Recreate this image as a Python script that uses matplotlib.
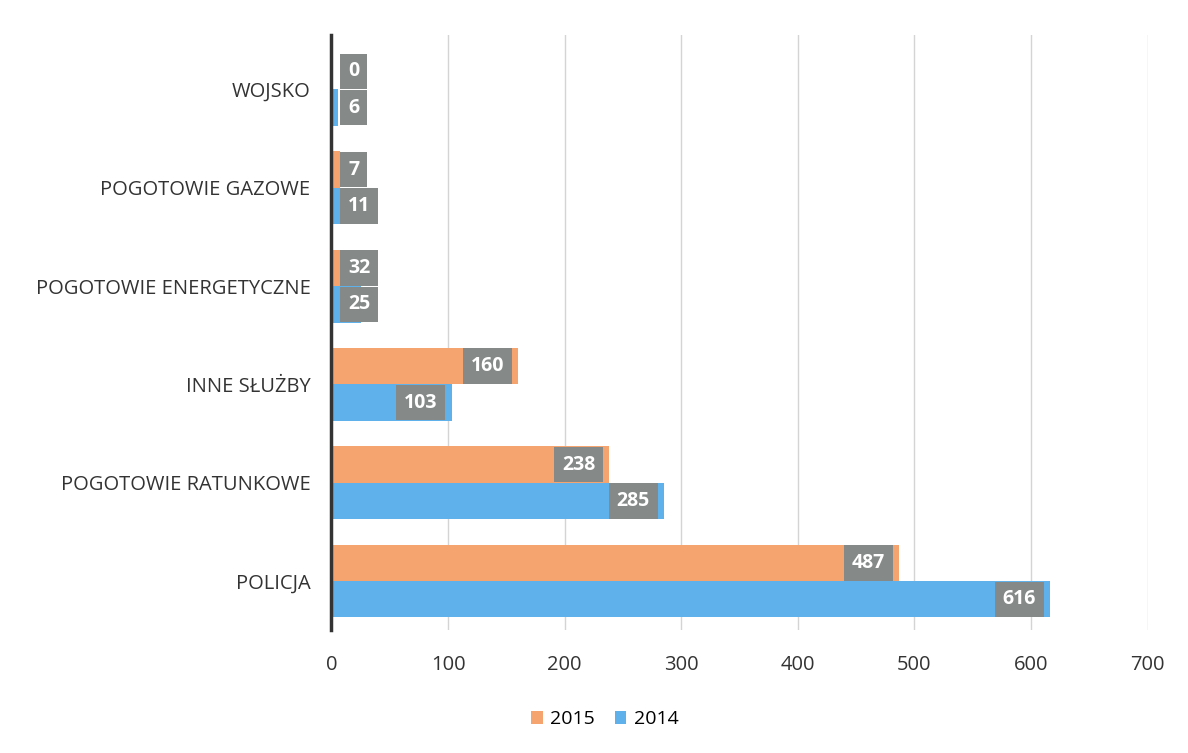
import matplotlib.pyplot as plt
import numpy as np

# data
categories = ['POLICJA', 'POGOTOWIE RATUNKOWE', 'INNE SŁUŻBY',
              'POGOTOWIE ENERGETYCZNE', 'POGOTOWIE GAZOWE', 'WOJSKO']
values_2015 = [487, 238, 160, 32, 7, 0]
values_2014 = [616, 285, 103, 25, 11, 6]
xticks = [0, 100, 200, 300, 400, 500, 600, 700]

plt.rcParams['font.family'] = ['Open Sans', 'DejaVu Sans']

fig = plt.figure(figsize=(11.88, 7.53), dpi=100)
ax = fig.add_axes([0.279, 0.163, 0.687, 0.79])

y = np.arange(len(categories))
h = 0.37
orange = '#f5a36f'
blue = '#5eb1ea'
gray = '#858a89'

ax.barh(y + h / 2, values_2015, height=h, color=orange, label='2015', zorder=2)
ax.barh(y - h / 2, values_2014, height=h, color=blue, label='2014', zorder=2)

# value labels in grey boxes at the bar ends
for yy, vals in [(y + h / 2, values_2015), (y - h / 2, values_2014)]:
    for pos, v in zip(yy, vals):
        if v < 60:
            ax.annotate(str(v), (0, pos), xytext=(12, 0), textcoords='offset points',
                        ha='left', va='center', color='white', fontsize=14,
                        fontweight='bold', zorder=3,
                        bbox=dict(boxstyle='square,pad=0.4', fc=gray, ec='none'))
        else:
            ax.annotate(str(v), (v, pos), xytext=(-10, 0), textcoords='offset points',
                        ha='right', va='center', color='white', fontsize=14,
                        fontweight='bold', zorder=3,
                        bbox=dict(boxstyle='square,pad=0.4', fc=gray, ec='none'))

ax.set_xlim(0, 700)
ax.set_ylim(-0.5, 5.55)
ax.set_xticks(xticks)
ax.set_yticks(y)
ax.set_yticklabels(categories)
ax.tick_params(axis='both', length=0, labelsize=14.5, colors='#333333')
ax.tick_params(axis='x', pad=18)
ax.tick_params(axis='y', pad=15)

ax.grid(axis='x', color='#d4d4d4', linewidth=1, zorder=0)
for s in ['top', 'right', 'bottom']:
    ax.spines[s].set_visible(False)
ax.spines['left'].set_color('#333333')
ax.spines['left'].set_linewidth(2.5)

ax.legend(loc='upper center', bbox_to_anchor=(0.335, -0.105), ncol=2, frameon=False,
          fontsize=14, handlelength=0.6, handleheight=0.6, columnspacing=1.0,
          handletextpad=0.4)

plt.savefig('out.png', dpi=100)
